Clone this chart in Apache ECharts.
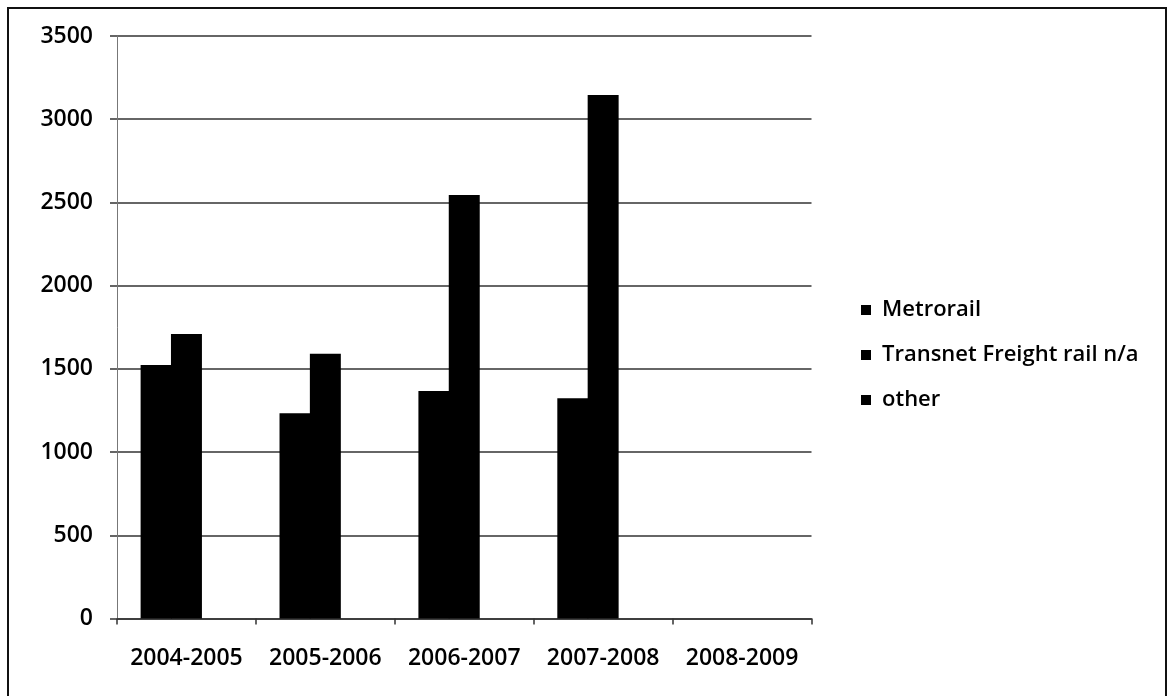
<!DOCTYPE html>
<html>
<head>
<meta charset="utf-8">
<title>Rail figures 2004-2009</title>
<script src="https://cdn.jsdelivr.net/npm/echarts@6/dist/echarts.min.js"></script>
<style>
  html, body { margin: 0; padding: 0; background: #fff; }
  #chart { width: 1168px; height: 696px; }
</style>
</head>
<body>
<div id="chart"></div>
<script>
// Financial years on the category axis
const years = ['2004-2005', '2005-2006', '2006-2007', '2007-2008', '2008-2009'];

// Series values per year
const metrorail = [1523, 1233, 1367, 1323, 0];
const transnetFreight = [1710, 1591, 2545, 3145, 0];
const other = [0, 0, 0, 0, 0];

// Series names shown in the legend
const seriesNames = ['Metrorail', 'Transnet Freight rail n/a', 'other'];

// Value axis range
const yMin = 0;
const yMax = 3500;
const yStep = 500;

const FONT = '"Open Sans", "DejaVu Sans", sans-serif';

const chart = echarts.init(document.getElementById('chart'), null, { renderer: 'canvas' });

// Adjacent bars overlap by a hair so no seam shows between them
const barSeries = [metrorail, transnetFreight, other].map((vals, i) => ({
  name: seriesNames[i],
  type: 'bar',
  data: vals,
  barGap: '-2%',
  barCategoryGap: '34%',
  itemStyle: { color: '#000' },
  emphasis: { disabled: true }
}));

chart.setOption({
  animation: false,
  backgroundColor: '#fff',
  graphic: [{
    type: 'rect',
    shape: { x: 8, y: 8, width: 1158, height: 720 },
    style: { fill: 'none', stroke: '#111', lineWidth: 2 },
    silent: true
  }],
  grid: { left: 117, right: 356.5, top: 36, bottom: 77.5, containLabel: false },
  legend: {
    orient: 'vertical',
    left: 856,
    top: 293,
    icon: 'rect',
    itemWidth: 10,
    itemHeight: 10,
    itemGap: 21,
    data: seriesNames,
    textStyle: {
      fontFamily: FONT,
      fontSize: 22,
      fontWeight: 600,
      color: '#000',
      lineHeight: 24,
      padding: [0, 0, 0, 6]
    }
  },
  xAxis: {
    type: 'category',
    data: years,
    boundaryGap: true,
    axisLine: { show: true, lineStyle: { color: '#333', width: 1.5 } },
    axisTick: { show: true, length: 6, lineStyle: { color: '#333', width: 1.5 } },
    axisLabel: {
      interval: 0,
      margin: 28,
      fontFamily: FONT,
      fontSize: 23,
      fontWeight: 600,
      color: '#000'
    },
    splitLine: { show: false }
  },
  yAxis: {
    type: 'value',
    min: yMin,
    max: yMax,
    interval: yStep,
    axisLine: { show: true, lineStyle: { color: '#777', width: 1 } },
    axisTick: { show: true, length: 7, lineStyle: { color: '#333', width: 1.5 } },
    axisLabel: {
      margin: 24,
      fontFamily: FONT,
      fontSize: 23,
      fontWeight: 600,
      color: '#000',
      formatter: (v) => String(v)
    },
    splitLine: { show: true, lineStyle: { color: '#333', width: 1.5 } }
  },
  series: barSeries
});
</script>
</body>
</html>
